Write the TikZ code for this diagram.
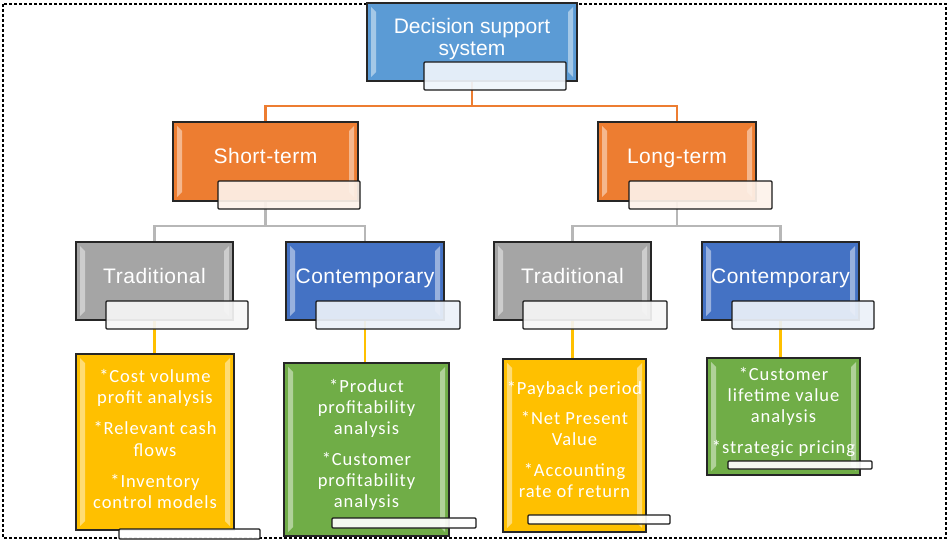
\documentclass[tikz,border=0pt]{standalone}
\usepackage{fontspec}
\newfontfamily\titlefont{Liberation Sans}
\newfontfamily\headfont{Liberation Sans}[LetterSpace=2.5]
\newfontfamily\listfont{Carlito}[LetterSpace=5]
\usetikzlibrary{calc,backgrounds}
\definecolor{dsscol}{HTML}{5B9BD5}
\definecolor{termcol}{HTML}{ED7D31}
\definecolor{tradcol}{HTML}{A5A5A5}
\definecolor{contcol}{HTML}{4472C4}
\definecolor{goldcol}{HTML}{FFC000}
\definecolor{greencol}{HTML}{70AD47}

\begin{document}
\begin{tikzpicture}[x=1pt, y=-1pt,
  bevel/.style={path picture={
    \fill[white, opacity=0.45]
      ([xshift=4pt,yshift=-4pt]path picture bounding box.north west) -- ([xshift=9pt,yshift=-9pt]path picture bounding box.north west) --
      ([xshift=9pt,yshift=9pt]path picture bounding box.south west) -- ([xshift=4pt,yshift=4pt]path picture bounding box.south west) -- cycle;
    \fill[white, opacity=0.45]
      ([xshift=-4pt,yshift=-4pt]path picture bounding box.north east) -- ([xshift=-9pt,yshift=-9pt]path picture bounding box.north east) --
      ([xshift=-9pt,yshift=9pt]path picture bounding box.south east) -- ([xshift=-4pt,yshift=4pt]path picture bounding box.south east) -- cycle;
  }},
  tile/.style={draw=black!85, line width=1.2pt, inner sep=0pt, bevel},
  tag/.style={draw=black!90, line width=1.1pt, rounded corners=1pt, fill opacity=0.92, inner sep=0pt},
  headtext/.style={text=white, font=\headfont\fontsize{21}{23}\selectfont, inner sep=0pt, anchor=base},
  listtext/.style={text=white, font=\listfont\fontsize{18.5}{21.3}\selectfont, align=center, inner sep=0pt, anchor=north},
  link/.style={line width=2.2pt}]

\useasboundingbox (0,0) rectangle (951,543);
\draw[line width=2.4pt, dash pattern=on 3pt off 2pt] (3,4) rectangle (946,538);

% top level
\node[tile, fill=dsscol, minimum width=210, minimum height=78] (dss) at (472,42) {};
\node[tag, fill=dsscol!10!white, minimum width=142, minimum height=28] (dsstag) at (495,76) {};
\node[text=white, font=\titlefont\fontsize{21}{22.5}\selectfont, align=center, inner sep=0pt, anchor=north] (dsstext) at (472,18) {Decision support\\system};

% short / long term
\node[tile, fill=termcol, minimum width=185, minimum height=79] (st) at (265.5,161.5) {};
\node[tag, fill=termcol!10!white, minimum width=142, minimum height=28] (sttag) at (289,195) {};
\node[headtext] (sttext) at (265.5,163) {Short-term};

\node[tile, fill=termcol, minimum width=158, minimum height=79] (lt) at (677,161.5) {};
\node[tag, fill=termcol!10!white, minimum width=143, minimum height=28] (lttag) at (700.5,195) {};
\node[headtext] (lttext) at (677,163) {Long-term};

% second level
\node[tile, fill=tradcol, minimum width=157, minimum height=78] (tradS) at (154.5,281) {};
\node[tag, fill=tradcol!10!white, minimum width=142, minimum height=28] (tradStag) at (177,315) {};
\node[headtext] (tradStext) at (154.5,283) {Traditional};

\node[tile, fill=contcol, minimum width=158, minimum height=78] (contS) at (365,281) {};
\node[tag, fill=contcol!10!white, minimum width=144, minimum height=28] (contStag) at (388,315) {};
\node[headtext] (contStext) at (365,283) {Contemporary};

\node[tile, fill=tradcol, minimum width=157, minimum height=78] (tradL) at (572.5,281) {};
\node[tag, fill=tradcol!10!white, minimum width=144, minimum height=28] (tradLtag) at (595,315) {};
\node[headtext] (tradLtext) at (572.5,283) {Traditional};

\node[tile, fill=contcol, minimum width=157, minimum height=78] (contL) at (780.5,281) {};
\node[tag, fill=contcol!10!white, minimum width=142, minimum height=28] (contLtag) at (803,315) {};
\node[headtext] (contLtext) at (780.5,283) {Contemporary};

% lists
\node[tile, fill=goldcol, minimum width=158, minimum height=176] (tradSlist) at (155,442) {};
\node[tag, fill=white, minimum width=141, minimum height=10] (tradSlisttag) at (189.5,534) {};
\node[listtext] (tradSlisttext) at (155,369) {*Cost volume\\profit analysis\\[10pt]*Relevant cash\\flows\\[10pt]*Inventory\\control models};

\node[tile, fill=greencol, minimum width=165, minimum height=173] (contSlist) at (366.5,449.5) {};
\node[tag, fill=white, minimum width=144, minimum height=10] (contSlisttag) at (404,523) {};
\node[listtext] (contSlisttext) at (366.5,379) {*Product\\profitability\\analysis\\[9pt]*Customer\\profitability\\analysis};

\node[tile, fill=goldcol, minimum width=143, minimum height=173] (tradLlist) at (574.5,445.5) {};
\node[tag, fill=white, minimum width=142, minimum height=9] (tradLlisttag) at (599,519.5) {};
\node[listtext] (tradLlisttext) at (574.5,381) {*Payback period\\[9pt]*Net Present\\Value\\[9pt]*Accounting\\rate of return};

\node[tile, fill=greencol, minimum width=153, minimum height=117] (contLlist) at (783.5,416.5) {};
\node[tag, fill=white, minimum width=144, minimum height=8] (contLlisttag) at (800,465) {};
\node[listtext] (contLlisttext) at (783.5,367) {*Customer\\lifetime value\\analysis\\[9pt]*strategic pricing};

\begin{scope}[on background layer]
\coordinate (forkT) at (472,106);
\coordinate (forkS) at (265.5,226);
\coordinate (forkL) at (677,226);
\draw[link, termcol] (dss) -- (forkT) -| (st);
\draw[link, termcol] (forkT) -| (lt);
\draw[link, tradcol!80] (st) -- (forkS) -| (tradS);
\draw[link, tradcol!80] (forkS) -| (contS);
\draw[link, tradcol!80] (lt) -- (forkL) -| (tradL);
\draw[link, tradcol!80] (forkL) -| (contL);
\draw[link, goldcol] (tradS) -- (tradS |- tradSlist);
\draw[link, goldcol] (contS) -- (contS |- contSlist);
\draw[link, goldcol] (tradL) -- (tradL |- tradLlist);
\draw[link, goldcol] (contL) -- (contL |- contLlist);
\end{scope}
\end{tikzpicture}
\end{document}
